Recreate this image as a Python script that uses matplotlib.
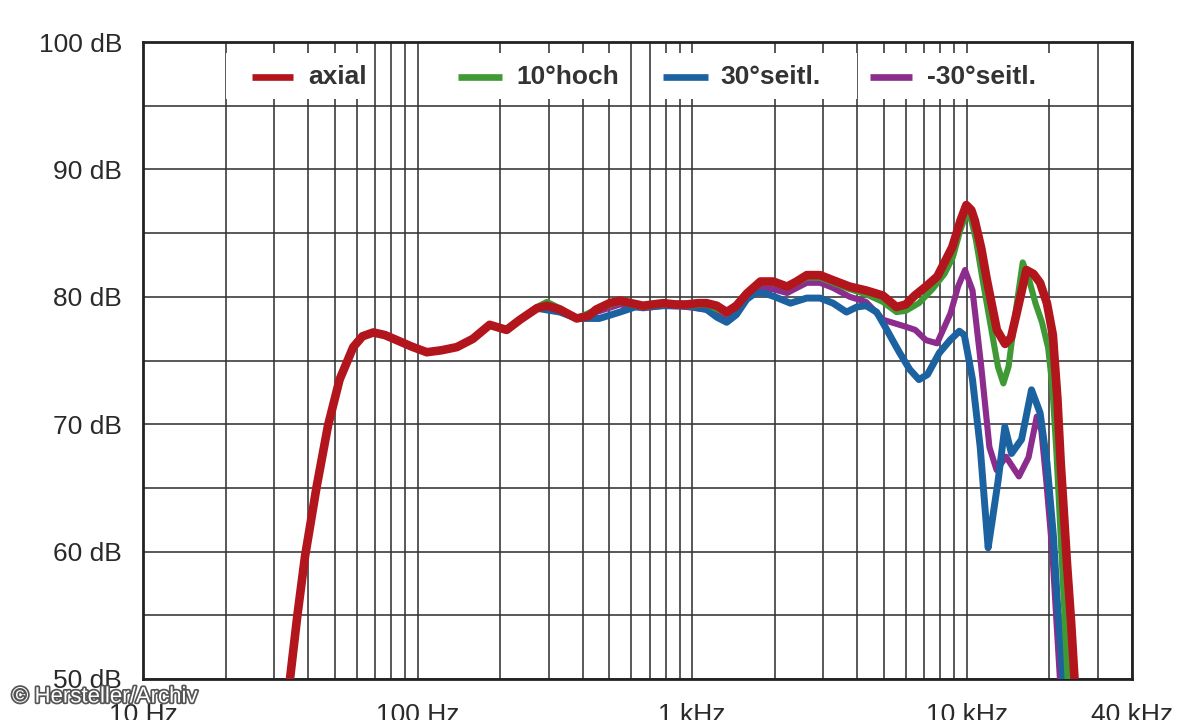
import matplotlib
matplotlib.use("Agg")
import matplotlib.pyplot as plt
import matplotlib.patheffects as pe
from matplotlib.patches import Rectangle
from matplotlib.ticker import FixedLocator, NullFormatter

plt.rcParams['font.family'] = ['Liberation Sans', 'DejaVu Sans']

# --- data ---
# low band, where all four curves lie on top of each other
base_freq = [33, 34.3, 36.5, 38.9, 42.9, 47.2, 52, 58.3, 63, 69, 76, 84, 95,
             108, 122, 139, 159, 183, 211, 236]
base_db = [48, 50, 55, 59.6, 65.1, 69.9, 73.5, 76.05, 76.9, 77.2, 77.0, 76.6,
           76.1, 75.65, 75.8, 76.05, 76.7, 77.8, 77.4, 78.2]

axial_freq = [272, 296, 330, 380, 420, 447, 500, 546, 600, 663, 720, 786, 870,
              957, 1050, 1129, 1230, 1336, 1450, 1581, 1773, 1975, 2218, 2400,
              2615, 2925, 3260, 3750, 4300, 4950, 5550, 6000, 6470, 7100, 7820,
              8860, 9500, 9970, 10400, 10700, 11300, 11850, 12880, 13800,
              14500, 15200, 16500, 17500, 18500, 19600, 20600, 21400, 22000,
              22600, 23200, 24000, 24700, 25300]
axial_db = [79.1, 79.3, 79.0, 78.3, 78.5, 79.0, 79.5, 79.7, 79.5, 79.3, 79.4,
            79.5, 79.4, 79.4, 79.5, 79.5, 79.3, 78.8, 79.3, 80.25, 81.2, 81.2,
            80.8, 81.2, 81.7, 81.7, 81.3, 80.8, 80.5, 80.1, 79.2, 79.4, 80.1,
            80.8, 81.6, 83.9, 86.0, 87.2, 86.8, 86.0, 83.8, 81.3, 77.4, 76.3,
            76.8, 78.7, 82.1, 81.8, 81.1, 79.5, 77.0, 72.0, 67.0, 63.0, 59.0,
            54.5, 50.0, 47.0]

hoch_freq = [272, 296, 330, 380, 447, 546, 663, 786, 957, 1129, 1336, 1581,
             1773, 1975, 2218, 2615, 2925, 3260, 3750, 4300, 4950, 5550, 6000,
             6700, 7500, 8300, 8900, 9500, 9970, 10400, 10800, 11500, 12400,
             13000, 13600, 14200, 15000, 16000, 16800, 17800, 18800, 19800,
             20500, 21200, 21900, 22600, 23300, 23800]
hoch_db = [79.2, 79.6, 79.1, 78.3, 79.0, 79.6, 79.2, 79.4, 79.3, 79.4, 78.7,
           80.2, 81.1, 81.1, 80.7, 81.5, 81.5, 81.1, 80.6, 80.2, 79.6, 78.8,
           78.9, 79.5, 80.6, 81.8, 83.1, 85.3, 86.5, 86.0, 84.5, 81.0, 77.0,
           74.5, 73.2, 74.5, 78.5, 82.7, 81.5, 79.5, 78.0, 76.0, 73.0, 68.0,
           62.0, 56.0, 50.0, 46.0]

seitl_freq = [272, 330, 380, 459, 546, 620, 700, 786, 957, 1129, 1230, 1336,
              1450, 1581, 1700, 1830, 2000, 2280, 2615, 2925, 3260, 3650, 3980,
              4300, 4700, 5000, 5400, 5700, 6200, 6700, 7200, 7950, 8700, 9400,
              9800, 10200, 10500, 11200, 11600, 11970, 12400, 13020, 13770,
              14560, 15840, 17220, 18500, 19600, 20700, 21400, 22400, 22800]
seitl_db = [79.1, 78.8, 78.3, 78.3, 78.8, 79.2, 79.2, 79.3, 79.3, 79.0, 78.4,
            78.0, 78.6, 79.8, 80.3, 80.3, 80.0, 79.5, 79.9, 79.9, 79.5, 78.8,
            79.2, 79.3, 78.8, 77.8, 76.5, 75.6, 74.3, 73.5, 73.9, 75.6, 76.6,
            77.3, 77.0, 75.0, 73.5, 68.2, 64.0, 60.3, 62.5, 65.6, 69.8, 67.7,
            68.8, 72.7, 70.9, 67.0, 61.2, 56.0, 50.2, 47.0]

neg_freq = [272, 330, 380, 447, 546, 663, 786, 957, 1129, 1230, 1336, 1450,
            1581, 1773, 1975, 2218, 2615, 2925, 3260, 3750, 4300, 4960, 5500,
            6000, 6500, 7100, 7800, 8730, 9300, 9860, 10500, 11300, 12100,
            12850, 13900, 15500, 16800, 18000, 18700, 19500, 20500, 21300,
            22000, 22300]
neg_db = [79.1, 78.9, 78.3, 78.8, 79.4, 79.1, 79.3, 79.2, 79.0, 78.6, 78.3,
          78.9, 80.1, 80.7, 80.6, 80.3, 81.1, 81.1, 80.7, 80.0, 79.6, 78.2,
          77.9, 77.65, 77.4, 76.6, 76.35, 78.7, 80.8, 82.1, 80.5, 74.5, 68.2,
          66.4, 67.45, 65.9, 67.4, 70.6, 69.5, 65.5, 60.0, 54.0, 49.0, 46.0]

series_labels = ["axial", "10°hoch", "30°seitl.", "-30°seitl."]
series_colors = ["#b3151d", "#3f9a36", "#1c62a0", "#8c2c8c"]

x_ticks = [10, 100, 1000, 10000, 40000]
x_ticklabels = ["10 Hz", "100 Hz", "1 kHz", "10 kHz", "40 kHz"]
y_ticks = [50, 60, 70, 80, 90, 100]
y_ticklabels = ["50 dB", "60 dB", "70 dB", "80 dB", "90 dB", "100 dB"]

# --- figure ---
fig = plt.figure(figsize=(11.99, 7.2), dpi=100)
ax = fig.add_axes([143 / 1199, 41 / 720, 989 / 1199, 637 / 720])
ax.set_xscale('log')
ax.set_xlim(10, 40000)
ax.set_ylim(50, 100)

minor_x = [m * d for d in (10, 100, 1000) for m in range(2, 10)] + [20000, 30000]
ax.xaxis.set_major_locator(FixedLocator(x_ticks))
ax.set_xticklabels(x_ticklabels)
ax.xaxis.set_minor_locator(FixedLocator(minor_x))
ax.xaxis.set_minor_formatter(NullFormatter())
ax.yaxis.set_major_locator(FixedLocator(y_ticks))
ax.set_yticklabels(y_ticklabels)
ax.yaxis.set_minor_locator(FixedLocator(list(range(55, 100, 10))))

ax.grid(which='both', color='#333333', linewidth=1.15, zorder=0)
ax.set_axisbelow(True)
ax.tick_params(which='both', length=0)
ax.tick_params(axis='y', pad=15, labelsize=19, labelcolor='#2a2a2a')
ax.tick_params(axis='x', pad=17, labelsize=19, labelcolor='#2a2a2a')
for s in ax.spines.values():
    s.set_linewidth(2)
    s.set_color('#222222')

# curves (purple at the back, red on top)
ax.plot(base_freq + neg_freq, base_db + neg_db, color=series_colors[3],
        lw=4.4, solid_joinstyle='round', solid_capstyle='round', zorder=3)
ax.plot(base_freq + seitl_freq, base_db + seitl_db, color=series_colors[2],
        lw=5.0, solid_joinstyle='round', solid_capstyle='round', zorder=4)
ax.plot(base_freq + hoch_freq, base_db + hoch_db, color=series_colors[1],
        lw=4.4, solid_joinstyle='round', solid_capstyle='round', zorder=5)
ax.plot(base_freq + axial_freq, base_db + axial_db, color=series_colors[0],
        lw=6.2, solid_joinstyle='round', solid_capstyle='round', zorder=6)

# legend: one white box per entry, gridlines show between them
boxes = [(0.084, 0.2315), (0.281, 0.4924), (0.5157, 0.722), (0.727, 0.9646)]
line_pos = [(0.110, 0.152), (0.3185, 0.363), (0.526, 0.571), (0.735, 0.7776)]
text_pos = [0.1668, 0.378, 0.5834, 0.7927]
for (x0, x1), (l0, l1), tx, lab, col in zip(boxes, line_pos, text_pos,
                                           series_labels, series_colors):
    ax.add_patch(Rectangle((x0, 0.911), x1 - x0, 0.072, transform=ax.transAxes,
                           facecolor='white', edgecolor='none', zorder=2))
    ax.plot([l0, l1], [0.945, 0.945], transform=ax.transAxes, color=col,
            lw=4.8, solid_capstyle='butt', zorder=7)
    ax.text(tx, 0.945, lab, transform=ax.transAxes, fontsize=19,
            fontweight='bold', color='#333333', va='center', ha='left', zorder=7)

# watermark
fig.text(0.01, 0.032, "© Hersteller/Archiv", fontsize=16, color='white',
         va='center', ha='left',
         path_effects=[pe.withStroke(linewidth=2.5, foreground='#555555')])

fig.savefig('out.png', dpi=100)
